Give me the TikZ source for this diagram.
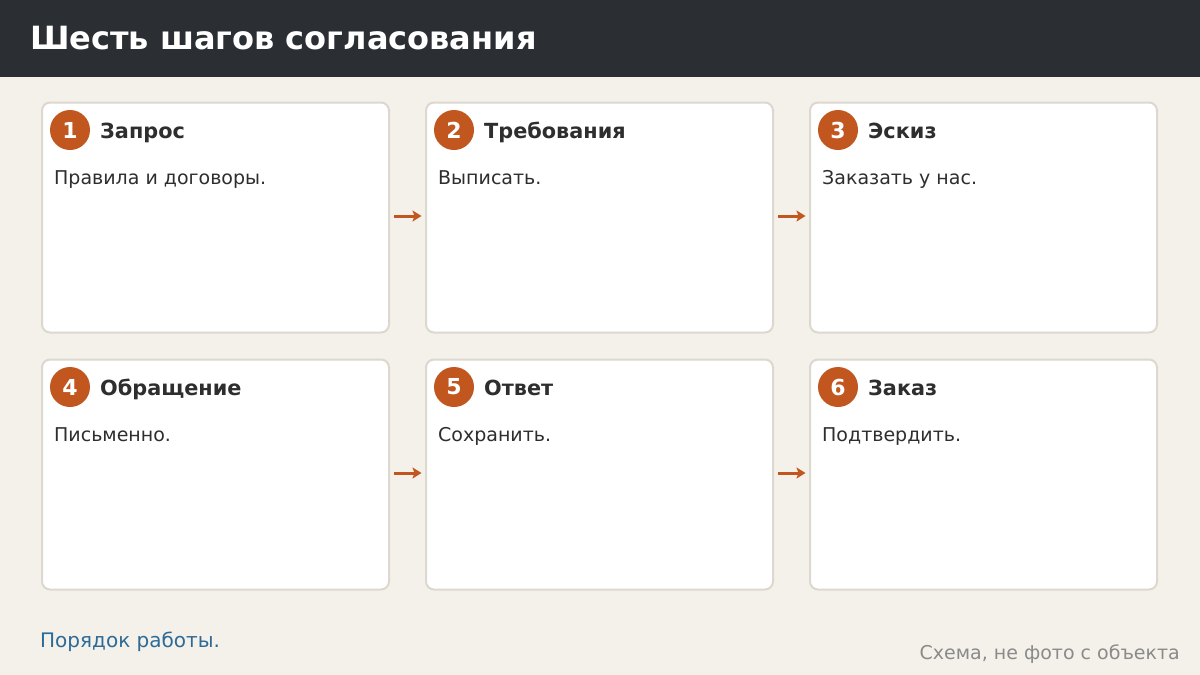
\documentclass[tikz,border=0pt]{standalone}
\usepackage{fontspec}
\setmainfont{DejaVu Sans}
\usetikzlibrary{arrows.meta}
\definecolor{bg}{HTML}{F4F1EA}
\definecolor{hdr}{HTML}{2B2E33}
\definecolor{accent}{HTML}{C2561F}
\definecolor{cardline}{HTML}{DDD8CF}
\definecolor{bodytxt}{HTML}{2E2E2E}
\definecolor{linkblue}{HTML}{2E6A96}
\definecolor{graytxt}{HTML}{8A8A8A}
\tikzset{
  card/.style={draw=cardline, line width=2pt, fill=white, rounded corners=8pt,
    minimum width=347pt, minimum height=230pt, inner sep=0pt, anchor=north west},
  badge/.style={circle, fill=accent, minimum size=40pt, inner sep=0pt,
    text=white, font=\fontsize{22}{26}\selectfont\bfseries},
  cardtitle/.style={anchor=base west, inner sep=0pt, text=bodytxt,
    font=\fontsize{20.8}{24}\selectfont\bfseries},
  cardbody/.style={anchor=base west, inner sep=0pt, text=bodytxt,
    font=\fontsize{19}{22}\selectfont},
  flow/.style={draw=accent, line width=3pt, -{Stealth[length=9pt,width=11pt,inset=2pt]},
    shorten <=4pt, shorten >=3.5pt}
}
\begin{document}
\begin{tikzpicture}[x=1pt,y=-1pt]
\useasboundingbox (0,0) rectangle (1200,675);
\fill[bg] (0,0) rectangle (1200,675);
\fill[hdr] (0,0) rectangle (1200,77);
\node[anchor=base west, inner sep=0pt, text=white, font=\fontsize{32}{38}\selectfont\bfseries] (title) at (30,49) {Шесть шагов согласования};

\foreach \i/\x/\y/\t/\b in {
  1/41/101.5/Запрос/Правила и договоры.,
  2/425/101.5/Требования/Выписать.,
  3/809/101.5/Эскиз/Заказать у нас.,
  4/41/358.5/Обращение/Письменно.,
  5/425/358.5/Ответ/Сохранить.,
  6/809/358.5/Заказ/Подтвердить.}{
  \node[card] (c\i) at (\x,\y) {};
  \node[badge] (n\i) at ([xshift=29pt,yshift=-28.5pt]c\i.north west) {\i};
  \node[cardtitle] (t\i) at ([xshift=59pt,yshift=-36.5pt]c\i.north west) {\t};
  \node[cardbody] (b\i) at ([xshift=13pt,yshift=-82.5pt]c\i.north west) {\b};
}
\draw[flow] ([yshift=1.5pt]c1.east) -- ([yshift=1.5pt]c2.west);
\draw[flow] ([yshift=1.5pt]c2.east) -- ([yshift=1.5pt]c3.west);
\draw[flow] ([yshift=1.5pt]c4.east) -- ([yshift=1.5pt]c5.west);
\draw[flow] ([yshift=1.5pt]c5.east) -- ([yshift=1.5pt]c6.west);

\node[anchor=base west, inner sep=0pt, text=linkblue, font=\fontsize{20}{24}\selectfont] (foot) at (40,647) {Порядок работы.};
\node[anchor=base east, inner sep=0pt, text=graytxt, font=\fontsize{19}{22}\selectfont] (note) at (1180,659) {Схема, не фото с объекта};
\end{tikzpicture}
\end{document}
